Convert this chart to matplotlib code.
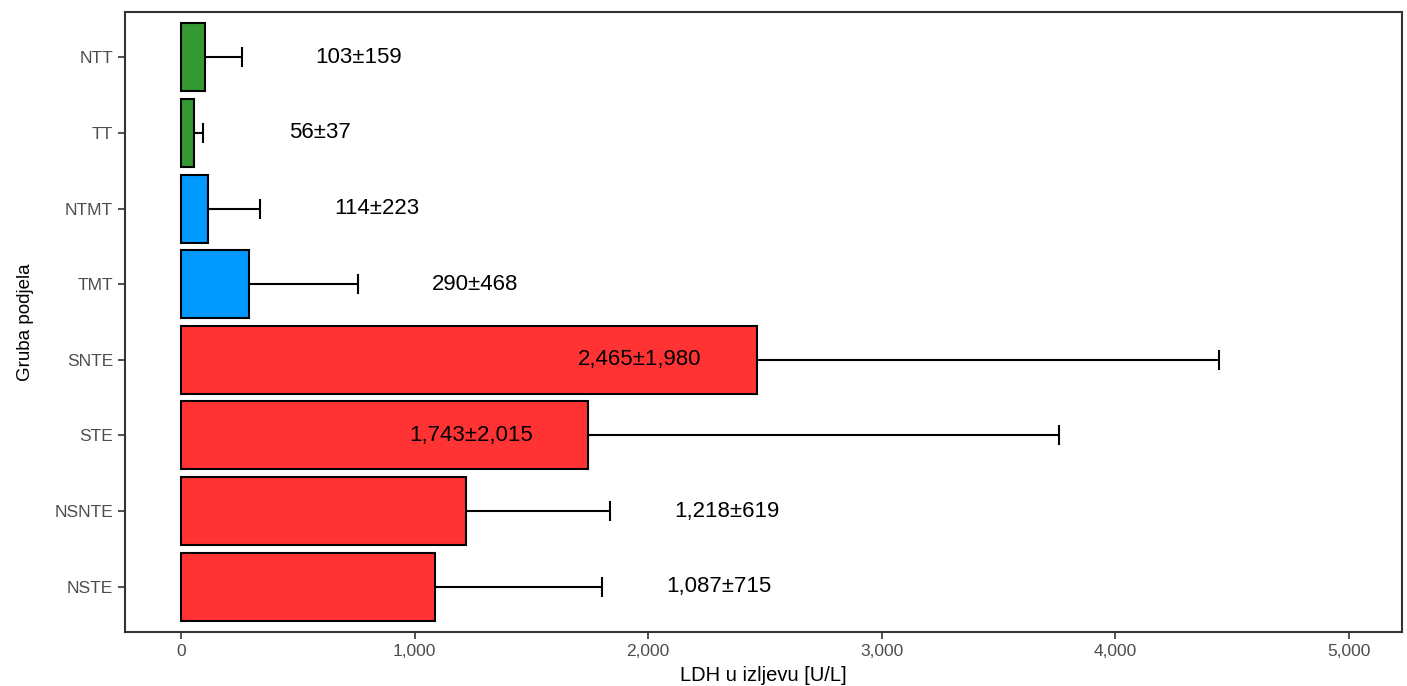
import numpy as np
import matplotlib
matplotlib.use("Agg")
import matplotlib.pyplot as plt
from matplotlib.ticker import FuncFormatter

plt.rcParams['font.family'] = ['Liberation Sans', 'DejaVu Sans']

# data, bottom to top
groups = ["NSTE", "NSNTE", "STE", "SNTE", "TMT", "NTMT", "TT", "NTT"]
means  = [1087, 1218, 1743, 2465, 290, 114, 56, 103]
sds    = [715, 619, 2015, 1980, 468, 223, 37, 159]
colors = ["#FF3333"] * 4 + ["#0099FF"] * 2 + ["#339933"] * 2

fig = plt.figure(figsize=(14.07, 6.86), dpi=100)
ax = fig.add_axes([125 / 1407, 54 / 686, 1277 / 1407, 620 / 686])

y = np.arange(len(groups))
ax.barh(y, means, height=0.9, color=colors, edgecolor="black", linewidth=1.5, zorder=2)

# upper error bars only
ends = np.array(means) + np.array(sds)
ax.hlines(y, means, ends, color="black", linewidth=1.5, zorder=3)
ax.plot(ends, y, linestyle="none", marker="|", markersize=15, markeredgewidth=1.5,
        color="black", zorder=3)

for yi, m, s in zip(y, means, sds):
    lx = m - 500 if m + s > 3000 else m + s + 500
    ax.text(lx, yi, f"{m:,}\u00b1{s:,}", ha="center", va="center",
            fontsize=16, color="black", zorder=4)

ax.set_xlim(-240, 5227)
ax.set_ylim(-0.6, len(groups) - 0.4)
ax.set_yticks(y)
ax.set_yticklabels(groups)
ax.set_xticks([0, 1000, 2000, 3000, 4000, 5000])
ax.xaxis.set_major_formatter(FuncFormatter(lambda v, p: f"{int(v):,}"))

ax.tick_params(axis="both", colors="#333333", labelcolor="#4D4D4D", labelsize=12.5,
               length=5, width=1.2, direction="out")
for sp in ax.spines.values():
    sp.set_color("#333333")
    sp.set_linewidth(1.5)

ax.set_xlabel("LDH u izljevu [U/L]", fontsize=14.5, color="black", labelpad=5)
ax.set_ylabel("Gruba podjela", fontsize=13.5, color="black", labelpad=15)

fig.savefig("out.png", dpi=100)
